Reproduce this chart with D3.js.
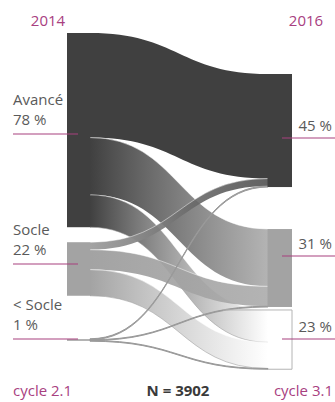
<!DOCTYPE html>
<html><head><meta charset="utf-8">
<script src="https://cdn.jsdelivr.net/npm/d3@7"></script>
<style>
html,body{margin:0;padding:0;background:#fff;}
svg{display:block;font-family:"Open Sans",sans-serif;}
</style></head>
<body><svg id="c" width="335" height="402"></svg>
<script>
// ---- data ----
const nodeNames = ["Avancé", "Socle", "< Socle"];
const leftPct = ["78 %", "22 %", "1 %"];
const rightPct = ["45 %", "31 %", "23 %"];
const nodeColors = ["#404040", "#a3a3a3", "#ffffff"];
const flowSource = ["Avancé","Avancé","Avancé","Socle","Socle","Socle","< Socle","< Socle","< Socle"];
const flowTarget = ["Avancé","Socle","< Socle","Avancé","Socle","< Socle","Avancé","Socle","< Socle"];
const flowValue  = [42, 23, 13, 3, 8, 10.5, 0.4, 0.3, 0.3];
const yearLeft = "2014", yearRight = "2016";
const cycleLeft = "cycle 2.1", cycleRight = "cycle 3.1";
const totalN = "N = 3902";

// ---- layout ----
const MAG = "#a8407f";
const svg = d3.select("#c");
const h = d3.scaleLinear().domain([0, 100]).range([0, 249]);
const xL0 = 67, xL1 = 90, xR0 = 268, xR1 = 292;
const leftTop = 33, leftGaps = [15, 43];
const rightTop = 74, rightGaps = [42, 3];
const leftLineY = [134, 264, 339], rightLineY = [138, 256, 339];

const idx = n => nodeNames.indexOf(n);
const outTot = nodeNames.map(n => d3.sum(flowValue.filter((v,i)=>flowSource[i]===n)));
const inTot = nodeNames.map(n => d3.sum(flowValue.filter((v,i)=>flowTarget[i]===n)));
function stack(tot, top, gaps){
  const r=[]; let y=top;
  tot.forEach((t,i)=>{ r.push({y0:y,y1:y+h(t)}); y+=h(t)+(gaps[i]||0); });
  return r;
}
const L = stack(outTot, leftTop, leftGaps);
const R = stack(inTot, rightTop, rightGaps);

const lOff = L.map(d=>d.y0), rOff = R.map(d=>d.y0);
const links = flowValue.map((v,i)=>({s:idx(flowSource[i]), t:idx(flowTarget[i]), v}));
nodeNames.forEach((n,si)=>{
  links.filter(l=>l.s===si).sort((a,b)=>a.t-b.t).forEach(l=>{l.sy0=lOff[si]; lOff[si]+=h(l.v); l.sy1=lOff[si];});
});
nodeNames.forEach((n,ti)=>{
  links.filter(l=>l.t===ti).sort((a,b)=>a.s-b.s).forEach(l=>{l.ty0=rOff[ti]; rOff[ti]+=h(l.v); l.ty1=rOff[ti];});
});

const defs = svg.append("defs");
const xm = (xL1 + xR0) / 2;
function linkPath(l){
  const p = d3.path();
  p.moveTo(xL1, l.sy0);
  p.bezierCurveTo(xm, l.sy0, xm, l.ty0, xR0, l.ty0);
  p.lineTo(xR0, l.ty1);
  p.bezierCurveTo(xm, l.ty1, xm, l.sy1, xL1, l.sy1);
  p.closePath();
  return p.toString();
}
function edgePath(y0, y1){
  const p = d3.path();
  p.moveTo(xL1, y0);
  p.bezierCurveTo(xm, y0, xm, y1, xR0, y1);
  return p.toString();
}

// left nodes
svg.selectAll("rect.ln").data(L.slice(0,2)).join("rect")
  .attr("x", xL0).attr("width", xL1-xL0+1).attr("y", d=>d.y0).attr("height", d=>d.y1-d.y0)
  .attr("fill", (d,i)=>nodeColors[i]);
svg.append("line").attr("x1", xL0).attr("x2", xL1+4).attr("y1", (L[2].y0+L[2].y1)/2).attr("y2",(L[2].y0+L[2].y1)/2)
  .attr("stroke","#9a9a9a").attr("stroke-width",1.5);

// links
links.forEach((l,i)=>{
  const id="g"+i;
  const g = defs.append("linearGradient").attr("id",id).attr("gradientUnits","userSpaceOnUse")
    .attr("x1",xL1).attr("x2",xR0).attr("y1",0).attr("y2",0);
  g.append("stop").attr("offset","0%").attr("stop-color", nodeColors[l.s]).attr("stop-opacity",1);
  g.append("stop").attr("offset","100%").attr("stop-color", nodeColors[l.t]).attr("stop-opacity", (l.s===0&&l.t===0)?1:0.82);
  const small = l.s===2;
  svg.append("path").attr("d", linkPath(l))
    .attr("fill", small ? "#9a9a9a" : `url(#${id})`)
    .attr("stroke", small ? "#9a9a9a" : "none")
    .attr("stroke-width", small ? 1 : 0);
  if(!small && !(l.s===0 && l.t===0)){
    svg.append("path").attr("d", edgePath(l.sy0, l.ty0))
      .attr("fill","none").attr("stroke","#ffffff").attr("stroke-opacity",0.6).attr("stroke-width",0.8);
  }
  if(!small && l.t===2){
    svg.append("path").attr("d", edgePath(l.sy1, l.ty1))
      .attr("fill","none").attr("stroke","#9f9f9f").attr("stroke-opacity",0.7).attr("stroke-width",0.8);
  }
});

// right nodes
svg.append("rect").attr("x", xR0-0.5).attr("width", xR1-xR0+0.5).attr("y", R[0].y0).attr("height", R[0].y1-R[0].y0).attr("fill", nodeColors[0]);
svg.append("rect").attr("x", xR0-0.5).attr("width", xR1-xR0+0.5).attr("y", R[1].y0).attr("height", R[1].y1-R[1].y0).attr("fill", nodeColors[1]);
svg.append("path").attr("d", `M${xR0-45},${R[2].y0}H${xR1}V${R[2].y1}H${xR0}`)
  .attr("fill","none").attr("stroke","#b4b4b4").attr("stroke-width",1);

// labels
const tc = "#5a5a5a";
nodeNames.forEach((n,i)=>{
  const y = leftLineY[i];
  svg.append("text").attr("x",13).attr("y",y-29).attr("fill",tc).attr("font-size",15).text(n);
  svg.append("text").attr("x",13).attr("y",y-9).attr("fill",tc).attr("font-size",15).text(leftPct[i]);
  svg.append("line").attr("x1",13).attr("x2",78).attr("y1",y).attr("y2",y).attr("stroke",MAG).attr("stroke-width",1.2);
  const yr = rightLineY[i];
  svg.append("text").attr("x",332).attr("y",yr-7).attr("fill",tc).attr("font-size",15).attr("text-anchor","end").text(rightPct[i]);
  svg.append("line").attr("x1",282).attr("x2",335).attr("y1",yr).attr("y2",yr).attr("stroke",MAG).attr("stroke-width",1.2);
});
svg.append("text").attr("x",48).attr("y",26).attr("fill",MAG).attr("font-size",15).attr("text-anchor","middle").text(yearLeft);
svg.append("text").attr("x",306).attr("y",26).attr("fill",MAG).attr("font-size",15).attr("text-anchor","middle").text(yearRight);
svg.append("text").attr("x",13).attr("y",396).attr("fill",MAG).attr("font-size",15).text(cycleLeft);
svg.append("text").attr("x",333).attr("y",396).attr("fill",MAG).attr("font-size",15).attr("text-anchor","end").text(cycleRight);
svg.append("text").attr("x",178).attr("y",396).attr("fill","#3a3a3a").attr("font-size",15).attr("font-weight","bold").attr("text-anchor","middle").text(totalN);
</script></body></html>
